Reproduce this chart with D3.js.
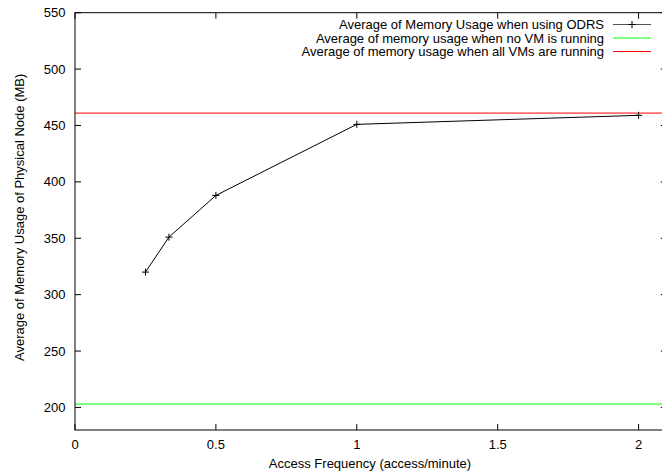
<!DOCTYPE html>
<html>
<head>
<meta charset="utf-8">
<script src="https://cdn.jsdelivr.net/npm/d3@7"></script>
<style>
  body { margin: 0; background: #fff; }
  svg { display: block; font-family: "Liberation Sans", Arial, sans-serif; }
</style>
</head>
<body>
<script>
// values
const freq = [0.25, 1 / 3, 0.5, 1, 2];
const memOdrs = [320, 351, 388, 451, 459];
const memNoVM = 203;
const memAllVMs = 461;
const xTicks = [0, 0.5, 1, 1.5, 2];
const yTicks = [200, 250, 300, 350, 400, 450, 500, 550];
const legendNames = [
  "Average of Memory Usage when using ODRS",
  "Average of memory usage when no VM is running",
  "Average of memory usage when all VMs are running"
];
const legendColors = ["#000", "#00ff00", "#ff0000"];

const width = 662, height = 472;
const plotLeft = 75, plotTop = 12.7, plotBottom = 430;
const fs = 13;

const x = d3.scaleLinear().domain([0, 2.1]).range([plotLeft, plotLeft + 2.1 * 281.8]);
const y = d3.scaleLinear().domain([180, 550]).range([plotBottom, plotTop]);
const plotRight = x(2.1);

const svg = d3.select("body").append("svg")
    .attr("width", width)
    .attr("height", height);

// horizontal reference lines
svg.append("line")
    .attr("x1", plotLeft).attr("x2", plotRight)
    .attr("y1", y(memNoVM)).attr("y2", y(memNoVM))
    .attr("stroke", legendColors[1]);
svg.append("line")
    .attr("x1", plotLeft).attr("x2", plotRight)
    .attr("y1", y(memAllVMs)).attr("y2", y(memAllVMs))
    .attr("stroke", legendColors[2]);

// frame
svg.append("rect")
    .attr("x", plotLeft).attr("y", plotTop)
    .attr("width", plotRight - plotLeft).attr("height", plotBottom - plotTop)
    .attr("fill", "none").attr("stroke", "#000");

// ticks, inward, mirrored on both sides
const tl = 6;
const tickG = svg.append("g").attr("stroke", "#000");
xTicks.forEach(t => {
  tickG.append("line").attr("x1", x(t)).attr("x2", x(t)).attr("y1", plotBottom).attr("y2", plotBottom - tl);
  tickG.append("line").attr("x1", x(t)).attr("x2", x(t)).attr("y1", plotTop).attr("y2", plotTop + tl);
});
yTicks.forEach(t => {
  tickG.append("line").attr("x1", plotLeft).attr("x2", plotLeft + tl).attr("y1", y(t)).attr("y2", y(t));
  tickG.append("line").attr("x1", plotRight).attr("x2", plotRight - tl).attr("y1", y(t)).attr("y2", y(t));
});

svg.append("g").selectAll("text")
  .data(xTicks)
  .join("text")
    .attr("x", d => x(d))
    .attr("y", plotBottom + 14)
    .attr("dy", "0.35em")
    .attr("text-anchor", "middle")
    .attr("font-size", fs)
    .text(d => d);

svg.append("g").selectAll("text")
  .data(yTicks)
  .join("text")
    .attr("x", plotLeft - 9.5)
    .attr("y", d => y(d))
    .attr("dy", "0.35em")
    .attr("text-anchor", "end")
    .attr("font-size", fs)
    .text(d => d);

// axis titles
svg.append("text")
    .attr("x", 370)
    .attr("y", 463.7)
    .attr("dy", "0.35em")
    .attr("text-anchor", "middle")
    .attr("font-size", fs)
    .text("Access Frequency (access/minute)");

svg.append("text")
    .attr("transform", `translate(19,${(plotTop + plotBottom) / 2 - 4}) rotate(-90)`)
    .attr("dy", "0.35em")
    .attr("text-anchor", "middle")
    .attr("font-size", fs)
    .text("Average of Memory Usage of Physical Node (MB)");

// ODRS series
const pts = freq.map((f, i) => [f, memOdrs[i]]);
svg.append("path")
    .datum(pts)
    .attr("fill", "none")
    .attr("stroke", "#000")
    .attr("d", d3.line().x(d => x(d[0])).y(d => y(d[1])));

const plus = (g, cx, cy) => g.append("path")
    .attr("d", `M${cx - 3.5},${cy}h7M${cx},${cy - 3.5}v7`)
    .attr("stroke", "#000");
pts.forEach(d => plus(svg, x(d[0]), y(d[1])));

// legend
const ly = [24.5, 38, 51.5];
const leg = svg.append("g").attr("font-size", fs);
legendNames.forEach((name, i) => {
  leg.append("text")
      .attr("x", 604)
      .attr("y", ly[i])
      .attr("dy", "0.35em")
      .attr("text-anchor", "end")
      .text(name);
  leg.append("line")
      .attr("x1", 613).attr("x2", 651)
      .attr("y1", ly[i]).attr("y2", ly[i])
      .attr("stroke", i === 0 ? "#555" : legendColors[i]);
  if (i === 0) plus(leg, 632, ly[i]);
});
</script>
</body>
</html>
